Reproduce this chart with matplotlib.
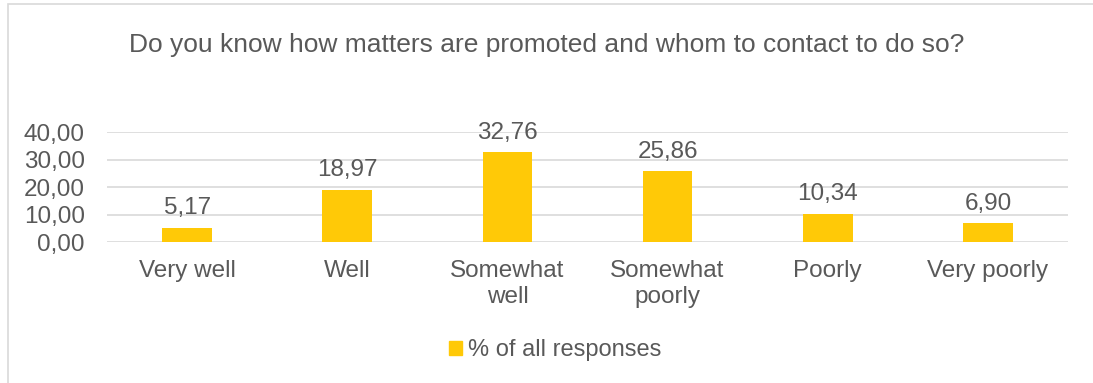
import matplotlib.pyplot as plt
from matplotlib.patches import Rectangle, Patch

categories = ['Very well', 'Well', 'Somewhat\nwell', 'Somewhat\npoorly', 'Poorly', 'Very poorly']
values = [5.17, 18.97, 32.76, 25.86, 10.34, 6.90]
yticks = [0, 10, 20, 30, 40]

text_col = '#595959'
bar_col = '#FFC907'
grid_col = '#D9D9D9'

plt.rcParams['font.family'] = ['Liberation Sans', 'DejaVu Sans']

fig = plt.figure(figsize=(10.93, 3.83), dpi=100)

# chart border (top and left edges visible)
fig.patches.append(Rectangle((8 / 1093, -0.1), 1.2, 1 - 4 / 383 + 0.1,
                             transform=fig.transFigure, fill=False,
                             edgecolor=grid_col, linewidth=1.2))

ax = fig.add_axes([107 / 1093, 1 - 242 / 383, 961 / 1093, 110 / 383])
x = range(len(categories))
bars = ax.bar(x, values, width=0.31, color=bar_col, zorder=3)

for xi, v in zip(x, values):
    ax.annotate(f'{v:.2f}'.replace('.', ','), (xi, v), xytext=(0, 6),
                textcoords='offset points', ha='center', va='bottom',
                fontsize=17.5, color=text_col)

ax.set_xlim(-0.5, len(categories) - 0.5)
ax.set_ylim(0, 40)
ax.set_yticks(yticks)
ax.set_yticklabels([f'{t:.2f}'.replace('.', ',') for t in yticks])
ax.set_xticks(list(x))
ax.set_xticklabels(categories, linespacing=1.25)
ax.tick_params(axis='both', length=0, labelsize=17.5, labelcolor=text_col)
ax.tick_params(axis='x', pad=13)
ax.tick_params(axis='y', pad=16)
ax.grid(axis='y', color=grid_col, linewidth=1.2, zorder=0)
for s in ax.spines.values():
    s.set_visible(False)

fig.text(0.5, 1 - 45 / 383, 'Do you know how matters are promoted and whom to contact to do so?',
         ha='center', va='center', fontsize=19, color=text_col)

fig.legend(handles=[Patch(color=bar_col, label='% of all responses')],
           loc='center', bbox_to_anchor=(0.508, 1 - 350 / 383), frameon=False,
           fontsize=17, labelcolor=text_col, handlelength=0.55, handleheight=0.55,
           handletextpad=0.25)

fig.savefig('out.png', dpi=100)
